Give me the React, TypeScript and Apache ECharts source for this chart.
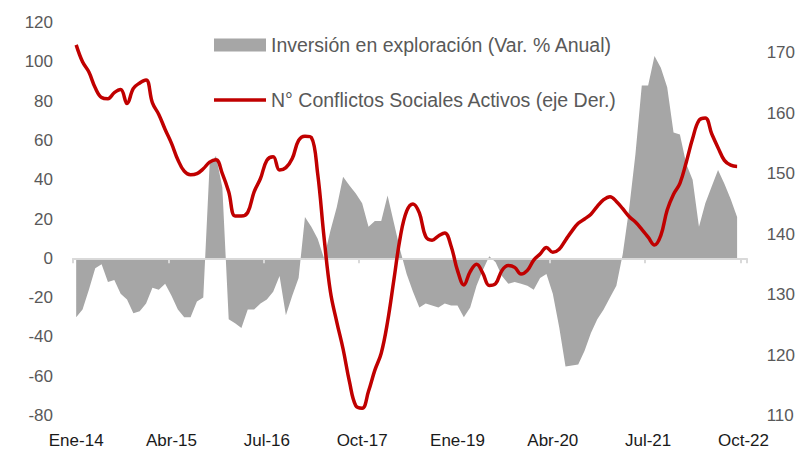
import React, { useEffect, useRef } from "react";
import * as echarts from "echarts";

const MONTHS = ["Ene", "Feb", "Mar", "Abr", "May", "Jun", "Jul", "Ago", "Sep", "Oct", "Nov", "Dic"];
const YEARS = ["14", "15", "16", "17", "18", "19", "20", "21", "22"];
const LAST_MONTH_INDEX = 9; // Oct-22

const categories: string[] = [];
YEARS.forEach((y, yi) => {
  MONTHS.forEach((m, mi) => {
    if (yi === YEARS.length - 1 && mi > LAST_MONTH_INDEX) return;
    categories.push(`${m}-${y}`);
  });
});

const SERIES_AREA = "Inversión en exploración (Var. % Anual)";
const SERIES_LINE = "N° Conflictos Sociales Activos (eje Der.)";

const inversion = [
  -30, -26, -16, -5, -3, -12, -11, -18, -21, -28,
  -27, -23, -15, -16, -13, -19, -26, -30, -30, -22,
  -20, 48, 52, 36, -31, -33, -35.5, -26, -26, -23,
  -21, -17, -9, -29, -19, -10, 21, 16, 10, 0,
  14, 26, 41.5, 37, 33, 28, 16, 19, 19, 32,
  18, 4, -8, -17, -25, -23, -24, -25, -23, -24,
  -24, -30, -25, -14, -6, 1, -2, -9, -13, -12,
  -13, -14, -16, -10, -8, -18, -35, -55, -54.5, -54,
  -47, -38, -31, -26, -20, -14, 2, 25, 53, 88,
  88, 103, 97, 87, 64, 63, 48, 40, 16, 28,
  36.5, 45, 38, 30, 21,
];

const conflictos = [
  171.3, 168.5, 166.8, 164.2, 162.6, 162.4, 163.4, 163.9, 161.6, 164.1,
  165, 165.5, 161.7, 159.8, 157.3, 155, 152.3, 150.4, 149.8, 150,
  150.8, 151.9, 152.3, 150, 147, 143, 143, 143.6, 147, 149.2,
  152.2, 152.8, 150.6, 151, 152.5, 155.5, 156.2, 156, 150, 139.5,
  130.5, 125.5, 121, 115.6, 111.6, 111.2, 114, 117.5, 120.3, 125.5,
  132.5, 139.5, 143.8, 145, 143.5, 139.6, 139, 139.7, 140.2, 138,
  134, 131.6, 133.8, 135, 133.5, 131.5, 131.8, 134, 134.8, 134.5,
  133.4, 134, 135.7, 136.7, 137.8, 137, 137.5, 139, 140.5, 141.8,
  142.5, 143.3, 144.6, 145.7, 146.2, 145.4, 144.2, 142.9, 142, 140.8,
  139.5, 138.2, 139.8, 144, 146.6, 148.4, 151.9, 155.8, 158.8, 159.2,
  156.6, 154.3, 152.2, 151.4, 151.2,
];

const FONT = "'Liberation Sans', Arial, sans-serif";

export default function App() {
  const ref = useRef<HTMLDivElement>(null);

  useEffect(() => {
    document.body.style.margin = "0";
    if (!ref.current) return;
    const chart = echarts.init(ref.current, null, { renderer: "svg" });
    chart.setOption({
      animation: false,
      backgroundColor: "#ffffff",
      textStyle: { fontFamily: FONT },
      grid: { left: 73, right: 51, top: 22.5, bottom: 36.5, containLabel: false },
      legend: {
        orient: "vertical",
        left: 209,
        top: 30,
        itemWidth: 52,
        itemHeight: 13,
        itemGap: 35,
        symbolKeepAspect: true,
        textStyle: { color: "#595959", fontSize: 19.5, fontFamily: FONT },
        data: [
          { name: SERIES_AREA, icon: "rect" },
          { name: SERIES_LINE, icon: "path://M0,0H52V3.5H0Z" },
        ],
      },
      xAxis: [
        {
          type: "category",
          data: categories,
          boundaryGap: true,
          z: 2,
          axisLine: { show: true, onZero: true, onZeroAxisIndex: 0, lineStyle: { color: "#d9d9d9", width: 2 } },
          axisTick: { show: true, interval: 14, length: 5, lineStyle: { color: "#d9d9d9", width: 2 } },
          axisLabel: { show: false },
          splitLine: { show: false },
        },
        {
          type: "category",
          data: categories,
          position: "bottom",
          boundaryGap: true,
          axisLine: { show: false, onZero: false },
          axisTick: { show: false },
          axisLabel: {
            show: true,
            interval: 14,
            margin: 16.5,
            color: "#1a1a1a",
            fontSize: 17,
            fontFamily: FONT,
          },
          splitLine: { show: false },
        },
      ],
      yAxis: [
        {
          type: "value",
          min: -80,
          max: 120,
          interval: 20,
          axisLine: { show: false },
          axisTick: { show: false },
          splitLine: { show: false },
          axisLabel: { color: "#595959", fontSize: 17, margin: 20, fontFamily: FONT },
        },
        {
          type: "value",
          min: 110,
          max: 175,
          interval: 10,
          position: "right",
          axisLine: { show: false },
          axisTick: { show: false },
          splitLine: { show: false },
          axisLabel: { color: "#595959", fontSize: 17, margin: 20, showMaxLabel: false, fontFamily: FONT },
        },
      ],
      series: [
        {
          name: SERIES_AREA,
          type: "line",
          xAxisIndex: 0,
          yAxisIndex: 0,
          data: inversion,
          symbol: "none",
          z: 1,
          itemStyle: { color: "#a6a6a6" },
          lineStyle: { width: 0, color: "#a6a6a6" },
          areaStyle: { color: "#a6a6a6", opacity: 1 },
        },
        {
          name: SERIES_LINE,
          type: "line",
          xAxisIndex: 0,
          yAxisIndex: 1,
          data: conflictos,
          symbol: "none",
          smooth: 0.4,
          z: 3,
          itemStyle: { color: "#c00000" },
          lineStyle: { width: 3.5, color: "#c00000" },
        },
      ],
    });
    return () => chart.dispose();
  }, []);

  return <div ref={ref} style={{ width: 798, height: 452 }} />;
}
